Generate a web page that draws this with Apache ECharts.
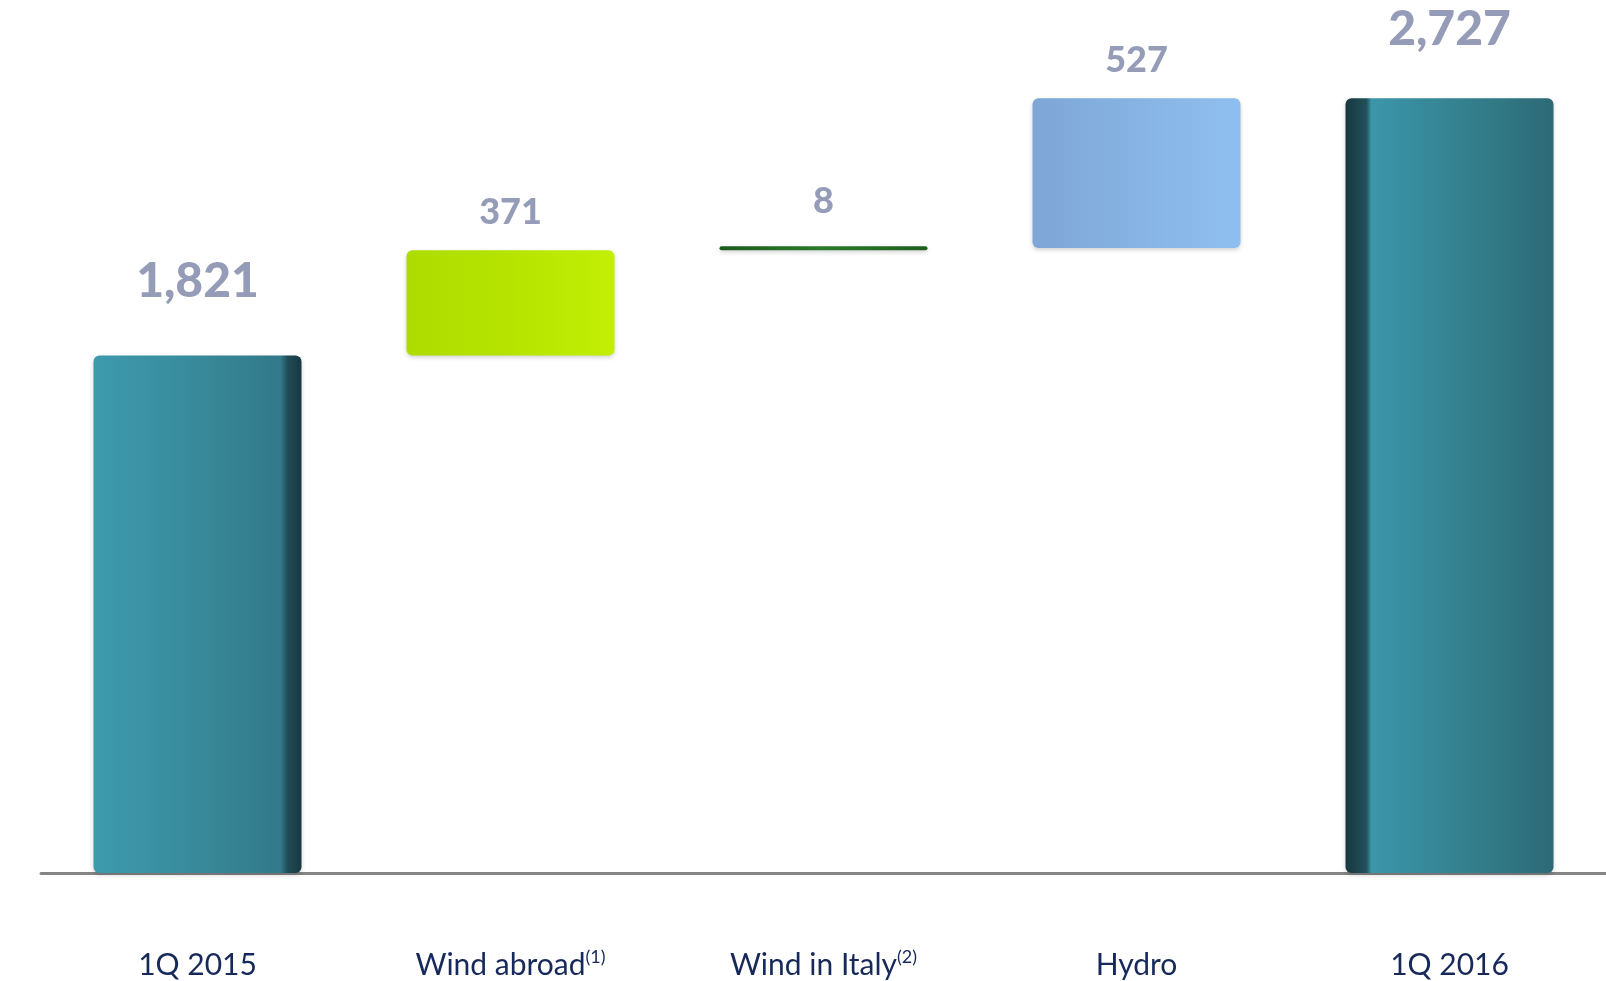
<!DOCTYPE html>
<html>
<head>
<meta charset="utf-8">
<script src="https://cdn.jsdelivr.net/npm/echarts@6/dist/echarts.min.js"></script>
<style>
html,body{margin:0;padding:0;background:#fff;}
#chart{width:1606px;height:981px;}
</style>
</head>
<body>
<div id="chart"></div>
<script>
const categories = ['1Q 2015', 'Wind abroad', 'Wind in Italy', 'Hydro', '1Q 2016'];
const footnotes = ['', '(1)', '(2)', '', ''];
const values = [1821, 371, 8, 527, 2727];
const isTotal = [true, false, false, false, true];
const valueLabels = ['1,821', '371', '8', '527', '2,727'];

// invisible base for the floating steps
const base = [];
let running = 0;
values.forEach((v, i) => {
  if (isTotal[i]) { base.push(0); running = v; }
  else { base.push(running); running += v; }
});

function grad(stops) {
  return { type: 'linear', x: 0, y: 0, x2: 1, y2: 0,
    colorStops: stops.map(s => ({ offset: s[0], color: s[1] })) };
}
const fills = [
  grad([[0, '#3d9aad'], [0.5, '#388a9a'], [0.9, '#32798a'], [0.935, '#1f4b55'], [1, '#183940']]),
  grad([[0, '#aedc00'], [0.5, '#b6e400'], [1, '#c2ef04']]),
  grad([[0, '#1d5a1d'], [0.5, '#2a7a2a'], [1, '#1e5e1e']]),
  grad([[0, '#7ea6d6'], [0.5, '#86b3e3'], [1, '#8fbff0']]),
  grad([[0, '#183840'], [0.1, '#22505a'], [0.125, '#3b96a9'], [0.6, '#347f8d'], [1, '#2d6a76']])
];
const labelGap = [50, 20, 27, 20, 45];

const chart = echarts.init(document.getElementById('chart'));
chart.setOption({
  animation: false,
  backgroundColor: '#ffffff',
  grid: { left: 41, width: 1570, top: 49, bottom: 108 },
  xAxis: {
    type: 'category',
    data: categories.map((c, i) => footnotes[i] ? '{m|' + c + '}{s|' + footnotes[i] + '}' : '{m|' + c + '}'),
    axisLine: { lineStyle: { color: '#858585', width: 3 } },
    axisTick: { show: false },
    axisLabel: {
      margin: 75,
      interval: 0,
      rich: {
        m: { fontFamily: 'Lato', fontSize: 30, color: '#17295a', lineHeight: 34 },
        s: { fontFamily: 'Lato', fontSize: 18, color: '#17295a', verticalAlign: 'top', lineHeight: 34 }
      }
    }
  },
  yAxis: { type: 'value', min: 0, max: 2900, show: false, splitLine: { show: false } },
  series: [
    {
      type: 'bar', stack: 'w', barWidth: 208,
      itemStyle: { color: 'transparent' },
      emphasis: { disabled: true },
      data: base
    },
    {
      type: 'bar', stack: 'w', barWidth: 208, barMinHeight: 4,
      data: values.map((v, i) => ({
        value: v,
        itemStyle: {
          color: fills[i],
          borderRadius: i === 2 ? 2 : 6,
          shadowColor: 'rgba(0,0,0,0.18)',
          shadowBlur: 4,
          shadowOffsetY: 2
        },
        label: {
          show: true,
          position: 'top',
          distance: labelGap[i],
          formatter: valueLabels[i],
          fontFamily: 'Lato',
          fontWeight: 900,
          fontSize: isTotal[i] ? 48 : 36,
          color: '#959cb8'
        }
      }))
    }
  ]
});
</script>
</body>
</html>
